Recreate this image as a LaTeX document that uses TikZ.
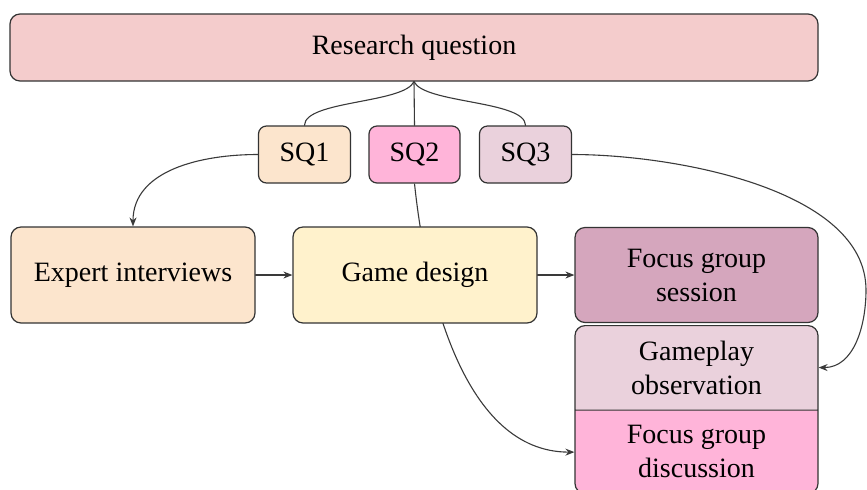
\documentclass[tikz,border=0pt]{standalone}
\usepackage{fontspec}
\setmainfont{Liberation Serif}
\usetikzlibrary{arrows.meta,calc,shapes.multipart,backgrounds}

\definecolor{rqpink}{HTML}{F4CCCC}
\definecolor{peach}{HTML}{FCE5CD}
\definecolor{hotpink}{HTML}{FFB4D9}
\definecolor{lilac}{HTML}{EAD1DC}
\definecolor{cream}{HTML}{FFF2CC}
\definecolor{mauve}{HTML}{D5A6BD}
\definecolor{boxline}{HTML}{333333}
\definecolor{linegray}{HTML}{3A3A3A}

\begin{document}
\begin{tikzpicture}[x=0.5pt, y=0.5pt, line cap=round, line join=round,
	font=\fontsize{14}{17}\selectfont,
	box/.style={draw=boxline, line width=0.6pt, rounded corners=5pt, align=center,
		inner sep=2pt, minimum width=122pt, minimum height=48pt},
	sqbox/.style={box, rounded corners=4pt, minimum width=46pt, minimum height=28.5pt},
	link/.style={draw=linegray, line width=0.55pt},
	arr/.style={link, -{Stealth[length=4.5pt, width=3.5pt]}}]
	
	% Khung hình
	\useasboundingbox (0,0) rectangle (867,-489);
	
	% Câu hỏi chính
	\node[box, fill=rqpink, minimum width=404pt, minimum height=33.5pt] (rq) at (414,-47.5) {Research question};
	
	% Các câu hỏi phụ
	\node[sqbox, fill=peach] (sq1) at (304.5,-154.5) {SQ1};
	\node[sqbox, fill=hotpink, minimum width=45.5pt] (sq2) at (414.5,-154.5) {SQ2};
	\node[sqbox, fill=lilac] (sq3) at (525.5,-154.5) {SQ3};
	
	% Các bước nghiên cứu
	\node[box, fill=peach] (expert) at (133,-275) {Expert interviews};
	\node[box, fill=cream] (game) at (415,-275) {Game design};
	\node[box, fill=mauve, minimum width=121.5pt, minimum height=47.5pt] (session) at (696.5,-275) {Focus group\\session};
	\node[box, anchor=north, minimum width=121.5pt, minimum height=0pt, inner ysep=7.4pt,
		rectangle split, rectangle split parts=2, rectangle split part fill={lilac,hotpink}] (obs) at (696.5,-325)
		{Gameplay\\observation \nodepart{two} Focus group\\discussion};
	
	\coordinate (obsin) at ($(obs.north east)!0.5!(obs.text split east)$);
	\coordinate (discin) at ($(obs.text split west)!0.5!(obs.south west)$);
	\coordinate (swing) at (866,-290);
	
	% Nhánh từ câu hỏi chính
	\draw[link] (rq.south) -- (sq2.north);
	\draw[link] (rq.south) .. controls +(-10,-22) and +(0,25) .. (sq1.north);
	\draw[link] (rq.south) .. controls +(10,-22) and +(0,25) .. (sq3.north);
	
	% Mũi tên nối
	\draw[arr] (sq1.west) to[out=180, in=90] (expert.north);
	\draw[arr] (expert) -- (game);
	\draw[arr] (game) -- (session);
	\draw[arr] (sq3.east) to[out=0, in=90, looseness=0.8] (swing) to[out=-90, in=0] (obsin);
	\begin{scope}[on background layer]
		\draw[arr] (sq2.south) to[out=-84, in=180, looseness=0.9] (discin);
	\end{scope}
	
\end{tikzpicture}
\end{document}
